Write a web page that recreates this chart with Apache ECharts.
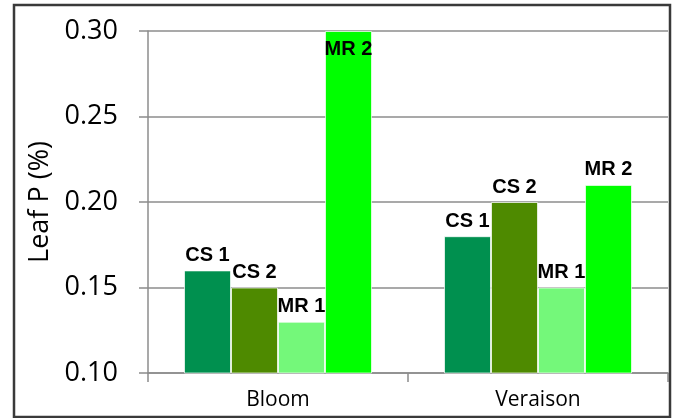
<!DOCTYPE html>
<html>
<head>
<meta charset="utf-8">
<script src="https://cdn.jsdelivr.net/npm/echarts@6/dist/echarts.min.js"></script>
<style>
html,body{margin:0;padding:0;background:#fff;}
#chart{width:675px;height:418px;}
</style>
</head>
<body>
<div id="chart"></div>
<script>
const categories = ['Bloom', 'Veraison'];
const seriesNames = ['CS 1', 'CS 2', 'MR 1', 'MR 2'];
const cs1 = [0.16, 0.18];
const cs2 = [0.15, 0.20];
const mr1 = [0.13, 0.15];
const mr2 = [0.30, 0.21];
const colors = ['#00904F', '#4E8A00', '#74F87A', '#00FF00'];
const yTicks = [0.10, 0.15, 0.20, 0.25, 0.30];

const allValues = [cs1, cs2, mr1, mr2];
const yMin = yTicks[0], yMax = yTicks[yTicks.length - 1];

const chart = echarts.init(document.getElementById('chart'), null, {renderer: 'canvas'});

const series = allValues.map((vals, i) => ({
  name: seriesNames[i],
  type: 'bar',
  barGap: '0%',
  barCategoryGap: '27.7%',
  itemStyle: {color: colors[i], borderColor: 'rgba(255,255,255,0.7)', borderWidth: 1},
  label: {
    show: true,
    position: 'top',
    distance: 5,
    formatter: seriesNames[i],
    fontFamily: 'Liberation Sans, Arial, sans-serif',
    fontWeight: 'bold',
    fontSize: 20,
    color: '#000'
  },
  data: vals.map(v => v >= yMax
    ? {value: v, label: {position: 'insideTop', distance: 8}}
    : v)
}));

chart.setOption({
  animation: false,
  backgroundColor: '#fff',
  grid: {left: 148, right: 7, top: 31, bottom: 45, containLabel: false},
  graphic: [{
    type: 'rect',
    shape: {x: 14, y: 5, width: 656, height: 412},
    style: {fill: 'none', stroke: '#3a3a3a', lineWidth: 2.5},
    silent: true,
    z: 100
  }],
  xAxis: {
    type: 'category',
    data: categories,
    axisLine: {show: true, lineStyle: {color: '#8c8c8c', width: 1.5}},
    axisTick: {show: true, length: 9, lineStyle: {color: '#8c8c8c', width: 1.5}},
    axisLabel: {
      margin: 17,
      fontFamily: 'Open Sans',
      fontSize: 21,
      color: '#000'
    }
  },
  yAxis: {
    type: 'value',
    min: yMin,
    max: yMax,
    interval: 0.05,
    name: 'Leaf P (%)',
    nameLocation: 'middle',
    nameGap: 92,
    nameTextStyle: {fontFamily: 'Open Sans', fontSize: 27, color: '#000'},
    axisLine: {show: true, lineStyle: {color: '#8c8c8c', width: 1.5}},
    axisTick: {show: true, length: 9, lineStyle: {color: '#8c8c8c', width: 1.5}},
    splitLine: {show: true, lineStyle: {color: '#8c8c8c', width: 1.5}},
    axisLabel: {
      margin: 30,
      fontFamily: 'Open Sans',
      fontSize: 27,
      color: '#000',
      formatter: v => v.toFixed(2)
    }
  },
  series: series
});
</script>
</body>
</html>
